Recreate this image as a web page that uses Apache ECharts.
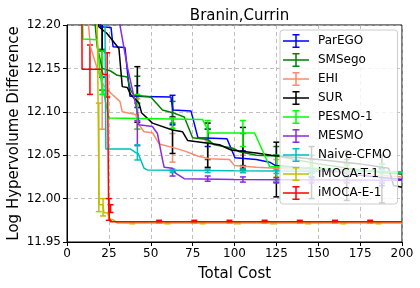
<!DOCTYPE html>
<html><head><meta charset="utf-8">
<script src="https://cdn.jsdelivr.net/npm/echarts@6/dist/echarts.min.js"></script>
<style>html,body{margin:0;padding:0;background:#fff}#c{width:420px;height:288px}</style>
</head><body><div id="c"></div>
<script>
// ---- data (cost, log hypervolume difference) ----
const names = ['ParEGO','SMSego','EHI','SUR','PESMO-1','MESMO','Naive-CFMO','iMOCA-T-1','iMOCA-E-1'];
const colors = ['#0000ff','#008000','#fc8a6e','#000000','#00ff00','#8a2be2','#00bfbf','#bfbf00','#ff0000'];
const xTicks = [0,25,50,75,100,125,150,175,200];
const yTicks = [11.95,12.00,12.05,12.10,12.15,12.20];

const parego = [[0,12.25],[19.5,12.25],[20,12.198],[26.3,12.197],[27.5,12.175],[34.6,12.174],[37.6,12.118],[62,12.117],[63.3,12.102],[74,12.101],[78.2,12.07],[95.5,12.069],[100.3,12.047],[113,12.045],[121,12.042],[124.5,12.038],[150,12.034],[175,12.027],[200,12.022]];
const smsego = [[0,12.25],[14.5,12.25],[18,12.175],[21,12.15],[26,12.147],[30,12.142],[36,12.14],[38,12.125],[40,12.119],[50,12.117],[57,12.102],[63,12.099],[70,12.094],[75,12.07],[84,12.068],[88,12.062],[99,12.058],[103,12.054],[113,12.05],[125,12.049],[150,12.04],[175,12.033],[200,12.028]];
const ehi = [[0,12.25],[10.5,12.25],[14,12.175],[18,12.15],[22,12.13],[27,12.12],[31.6,12.112],[33,12.10],[41,12.097],[43,12.085],[46,12.077],[51,12.076],[55,12.063],[63,12.059],[70,12.055],[78,12.049],[85,12.046],[97,12.045],[100,12.038],[113,12.036],[125,12.035],[150,12.032],[200,12.025]];
const sur = [[0,12.25],[17.5,12.25],[19,12.198],[24,12.19],[31,12.173],[33,12.129],[36,12.128],[38,12.12],[43,12.11],[44.5,12.099],[51,12.087],[63,12.079],[69,12.077],[72,12.067],[91,12.062],[98,12.056],[113,12.0525],[122,12.05],[150,12.045],[175,12.04],[192,12.035],[195,12.015],[200,12.013]];
const pesmo = [[0,12.25],[8.8,12.25],[9.5,12.184],[18,12.183],[20,12.14],[25,12.093],[81,12.091],[85,12.0755],[112,12.0755],[121,12.037],[150,12.035],[200,12.03]];
const mesmo = [[0,12.25],[30.5,12.25],[31.6,12.2],[36,12.152],[42.4,12.096],[42.8,12.085],[51,12.083],[54,12.075],[57,12.045],[58,12.036],[63,12.035],[65,12.029],[70,12.023],[100,12.022],[200,12.021]];
const naive = [[0,12.25],[22.5,12.25],[23.2,12.057],[38,12.057],[41,12.053],[42.5,12.052],[46,12.035],[48,12.033],[100,12.032],[200,12.031]];
const imocaT = [[0,12.25],[17.8,12.25],[19.2,11.993],[21.5,11.993],[22,11.984],[24.5,11.983],[25,11.977],[28,11.975],[30,11.972],[200,11.972]];
const imocaE = [[0,12.25],[8.8,12.25],[9,12.149],[20.6,12.149],[21.5,12.143],[24.2,12.143],[24.8,12.0],[25.3,11.977],[26,11.9734],[200,11.9734]];

// error bars: [cost, low, high]
const paregoErr = [[21,12.14,12.25],[42,12.105,12.13],[63,12.085,12.119],[84,12.06,12.08],[105,12.038,12.055],[125,12.019,12.05],[146,12.025,12.045],[167,12.02,12.04],[188,12.015,12.035]];
const smsegoErr = [[21,12.125,12.172],[42,12.11,12.141],[63,12.087,12.112],[84,12.045,12.08],[105,12.035,12.075],[125,12.035,12.06],[146,12.03,12.05],[167,12.025,12.045],[188,12.02,12.04]];
const ehiErr = [[21,12.08,12.17],[42,12.08,12.115],[63,12.042,12.075],[84,12.035,12.067],[105,12.03,12.05],[125,12.025,12.045],[146,12.022,12.04],[167,12.02,12.038],[188,12.018,12.033]];
const surErr = [[21,12.17,12.25],[42,12.088,12.152],[63,12.052,12.094],[84,12.036,12.087],[105,12.033,12.082],[125,12.002,12.065],[146,12.0,12.06],[167,11.998,12.055],[188,11.995,12.05]];
const pesmoErr = [[21,12.12,12.17],[42,12.08,12.12],[63,12.081,12.093],[84,12.065,12.09],[105,12.06,12.09],[125,12.02,12.05],[146,12.02,12.045],[167,12.02,12.04],[188,12.02,12.04]];
const mesmoErr = [[42,12.061,12.09],[63,12.026,12.032],[84,12.02,12.026],[105,12.019,12.025],[125,12.018,12.024],[146,12.018,12.024],[167,12.018,12.024],[188,12.018,12.024]];
const naiveErr = [[42,12.0445,12.062],[63,12.03,12.034],[84,12.03,12.034],[105,12.03,12.034],[125,12.029,12.033],[146,12.029,12.033],[167,12.029,12.033],[188,12.029,12.033]];
const imocaTErr = [[19,11.985,12.11],[21.5,11.98,12.0],[39,11.971,11.973],[60,11.971,11.973],[81,11.971,11.973],[102,11.971,11.973],[123,11.971,11.973],[144,11.971,11.973],[165,11.971,11.973],[186,11.971,11.973]];
const imocaEErr = [[13.7,12.12,12.177],[24,12.117,12.168],[25,11.975,12.0],[26,11.984,11.993],[55,11.972,11.975],[76,11.972,11.975],[97,11.972,11.975],[118,11.972,11.975],[139,11.972,11.975],[160,11.972,11.975],[181,11.972,11.975]];

const lines = [parego,smsego,ehi,sur,pesmo,mesmo,naive,imocaT,imocaE];
const errs = [paregoErr,smsegoErr,ehiErr,surErr,pesmoErr,mesmoErr,naiveErr,imocaTErr,imocaEErr];

const FONT = 'DejaVu Sans';
const icon = 'path://M0,6.25H26V7.75H0Z M12.25,0H13.75V14H12.25Z M9.5,0H16.5V1.5H9.5Z M9.5,12.5H16.5V14H9.5Z';

function errRender(color){
  return function(params, api){
    const x = api.value(0), lo = api.value(1), hi = api.value(2);
    const a = api.coord([x, hi]), b = api.coord([x, lo]);
    const st = {stroke: color, lineWidth: 1.5, fill: null};
    return {type:'group', children:[
      {type:'line', shape:{x1:a[0],y1:a[1],x2:b[0],y2:b[1]}, style:st},
      {type:'line', shape:{x1:a[0]-3,y1:a[1],x2:a[0]+3,y2:a[1]}, style:st},
      {type:'line', shape:{x1:b[0]-3,y1:b[1],x2:b[0]+3,y2:b[1]}, style:st}
    ]};
  };
}

const series = [];
names.forEach((n,i)=>{
  series.push({name:n, type:'line', data:lines[i], showSymbol:false, symbol:'none', clip:true,
    lineStyle:{color:colors[i], width:1.5}, itemStyle:{color:colors[i]}, animation:false, z:2});
  series.push({name:n+'_err', type:'custom', data:errs[i], renderItem:errRender(colors[i]), clip:true,
    encode:{x:0,y:[1,2]}, animation:false, z:2, silent:true});
});

const chart = echarts.init(document.getElementById('c'), null, {renderer:'canvas'});
chart.setOption({
  animation:false,
  backgroundColor:'#fff',
  title:{text:'Branin,Currin', left:234.5, textAlign:'center', top:4,
    textStyle:{fontFamily:FONT, fontSize:15, fontWeight:'normal', color:'#000'}},
  grid:{left:67, right:18, top:25, bottom:46, show:true, borderColor:'#000', borderWidth:1, backgroundColor:'transparent',
    containLabel:false, outerBoundsMode:'none'},
  legend:{data:names.map(n=>({name:n, icon:icon})), orient:'vertical', left:280, top:30,
    padding:[4,6,4,3], itemWidth:26, itemHeight:14, itemGap:5,
    backgroundColor:'rgba(255,255,255,0.8)', borderColor:'#cccccc', borderWidth:1, borderRadius:3,
    textStyle:{fontFamily:FONT, fontSize:12, color:'#000', padding:[0,0,0,4]}},
  xAxis:{type:'value', min:0, max:200, interval:25, name:'Total Cost', nameLocation:'middle', nameGap:25, nameMoveOverlap:false,
    nameTextStyle:{fontFamily:FONT, fontSize:15, color:'#000'},
    axisLine:{show:true, lineStyle:{color:'#000', width:1}},
    axisTick:{show:true, length:4, lineStyle:{color:'#000'}},
    axisLabel:{fontFamily:FONT, fontSize:12, color:'#000', margin:6, formatter:v=>String(v)},
    splitLine:{show:true, lineStyle:{color:'#b0b0b0', type:[4,3], width:0.8}}},
  yAxis:{type:'value', min:11.95, max:12.20, interval:0.05, name:'Log Hypervolume Difference', nameLocation:'middle', nameGap:45, nameMoveOverlap:false,
    nameTextStyle:{fontFamily:FONT, fontSize:15, color:'#000'},
    axisLine:{show:true, lineStyle:{color:'#000', width:1}},
    axisTick:{show:true, length:4, lineStyle:{color:'#000'}},
    axisLabel:{fontFamily:FONT, fontSize:12, color:'#000', margin:6, formatter:v=>v.toFixed(2)},
    splitLine:{show:true, lineStyle:{color:'#b0b0b0', type:[4,3], width:0.8}}},
  series:series
});
</script></body></html>
